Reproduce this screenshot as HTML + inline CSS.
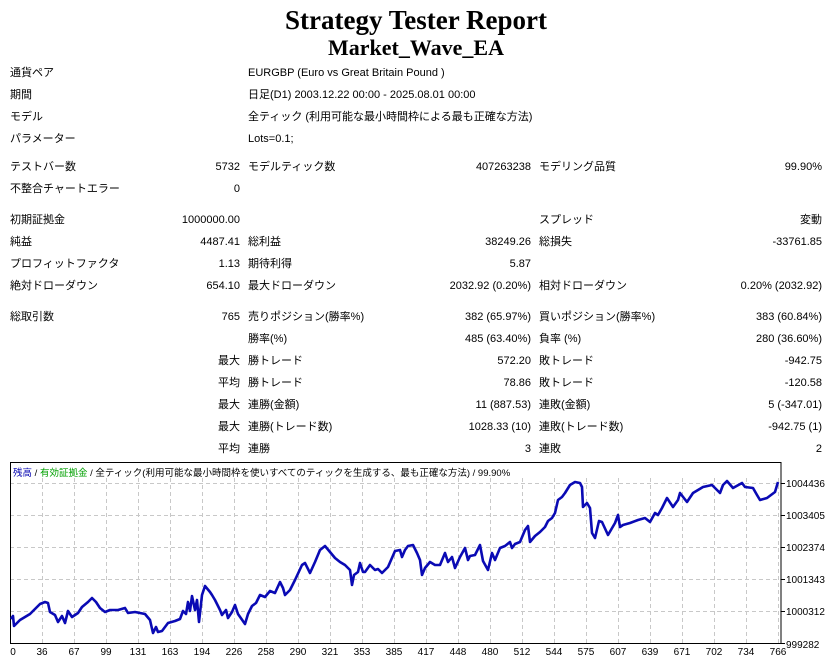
<!DOCTYPE html>
<html><head><meta charset="utf-8"><style>
body{margin:0;width:832px;height:664px;background:#fff;position:relative;overflow:hidden;font-family:"Liberation Sans","Noto Sans CJK JP",sans-serif;font-size:11px;color:#000}
.t{position:absolute;white-space:nowrap;line-height:14px}
.r{text-align:right}
h1,h2{position:absolute;left:0;width:832px;text-align:center;margin:0;font-family:"Liberation Serif",serif;font-weight:bold}
</style></head><body>
<h1 style="top:4px;font-size:27px;line-height:32px">Strategy Tester Report</h1>
<h2 style="top:35px;font-size:22px;line-height:26px">Market_Wave_EA</h2>

<div class="t" style="left:10px;top:66px">通貨ペア</div><div class="t" style="left:248px;top:66px">EURGBP (Euro vs Great Britain Pound )</div>
<div class="t" style="left:10px;top:88px">期間</div><div class="t" style="left:248px;top:88px">日足(D1) 2003.12.22 00:00 - 2025.08.01 00:00</div>
<div class="t" style="left:10px;top:110px">モデル</div><div class="t" style="left:248px;top:110px">全ティック (利用可能な最小時間枠による最も正確な方法)</div>
<div class="t" style="left:10px;top:132px">パラメーター</div><div class="t" style="left:248px;top:132px">Lots=0.1;</div>

<div class="t" style="left:10px;top:160px">テストバー数</div><div class="t r" style="right:592px;top:160px">5732</div>
<div class="t" style="left:248px;top:160px">モデルティック数</div><div class="t r" style="right:301px;top:160px">407263238</div>
<div class="t" style="left:539px;top:160px">モデリング品質</div><div class="t r" style="right:10px;top:160px">99.90%</div>
<div class="t" style="left:10px;top:182px">不整合チャートエラー</div><div class="t r" style="right:592px;top:182px">0</div>

<div class="t" style="left:10px;top:213px">初期証拠金</div><div class="t r" style="right:592px;top:213px">1000000.00</div>
<div class="t" style="left:539px;top:213px">スプレッド</div><div class="t r" style="right:10px;top:213px">変動</div>
<div class="t" style="left:10px;top:235px">純益</div><div class="t r" style="right:592px;top:235px">4487.41</div>
<div class="t" style="left:248px;top:235px">総利益</div><div class="t r" style="right:301px;top:235px">38249.26</div>
<div class="t" style="left:539px;top:235px">総損失</div><div class="t r" style="right:10px;top:235px">-33761.85</div>
<div class="t" style="left:10px;top:257px">プロフィットファクタ</div><div class="t r" style="right:592px;top:257px">1.13</div>
<div class="t" style="left:248px;top:257px">期待利得</div><div class="t r" style="right:301px;top:257px">5.87</div>
<div class="t" style="left:10px;top:279px">絶対ドローダウン</div><div class="t r" style="right:592px;top:279px">654.10</div>
<div class="t" style="left:248px;top:279px">最大ドローダウン</div><div class="t r" style="right:301px;top:279px">2032.92 (0.20%)</div>
<div class="t" style="left:539px;top:279px">相対ドローダウン</div><div class="t r" style="right:10px;top:279px">0.20% (2032.92)</div>

<div class="t" style="left:10px;top:310px">総取引数</div><div class="t r" style="right:592px;top:310px">765</div>
<div class="t" style="left:248px;top:310px">売りポジション(勝率%)</div><div class="t r" style="right:301px;top:310px">382 (65.97%)</div>
<div class="t" style="left:539px;top:310px">買いポジション(勝率%)</div><div class="t r" style="right:10px;top:310px">383 (60.84%)</div>
<div class="t" style="left:248px;top:332px">勝率(%)</div><div class="t r" style="right:301px;top:332px">485 (63.40%)</div>
<div class="t" style="left:539px;top:332px">負率 (%)</div><div class="t r" style="right:10px;top:332px">280 (36.60%)</div>
<div class="t r" style="right:592px;top:354px">最大</div><div class="t" style="left:248px;top:354px">勝トレード</div><div class="t r" style="right:301px;top:354px">572.20</div>
<div class="t" style="left:539px;top:354px">敗トレード</div><div class="t r" style="right:10px;top:354px">-942.75</div>
<div class="t r" style="right:592px;top:376px">平均</div><div class="t" style="left:248px;top:376px">勝トレード</div><div class="t r" style="right:301px;top:376px">78.86</div>
<div class="t" style="left:539px;top:376px">敗トレード</div><div class="t r" style="right:10px;top:376px">-120.58</div>
<div class="t r" style="right:592px;top:398px">最大</div><div class="t" style="left:248px;top:398px">連勝(金額)</div><div class="t r" style="right:301px;top:398px">11 (887.53)</div>
<div class="t" style="left:539px;top:398px">連敗(金額)</div><div class="t r" style="right:10px;top:398px">5 (-347.01)</div>
<div class="t r" style="right:592px;top:420px">最大</div><div class="t" style="left:248px;top:420px">連勝(トレード数)</div><div class="t r" style="right:301px;top:420px">1028.33 (10)</div>
<div class="t" style="left:539px;top:420px">連敗(トレード数)</div><div class="t r" style="right:10px;top:420px">-942.75 (1)</div>
<div class="t r" style="right:592px;top:442px">平均</div><div class="t" style="left:248px;top:442px">連勝</div><div class="t r" style="right:301px;top:442px">3</div>
<div class="t" style="left:539px;top:442px">連敗</div><div class="t r" style="right:10px;top:442px">2</div>

<svg style="position:absolute;left:0;top:0" width="832" height="664">
<g stroke="#c8c8c8" stroke-dasharray="4,3" stroke-width="1">
<path d="M10 483.5H781M10 515.5H781M10 547.5H781M10 579.5H781M10 611.5H781"/>
<path d="M42.5 478V643M74.5 478V643M106.5 478V643M138.5 478V643M170.5 478V643M202.5 478V643M234.5 478V643M266.5 478V643M298.5 478V643M330.5 478V643M362.5 478V643M394.5 478V643M426.5 478V643M458.5 478V643M490.5 478V643M522.5 478V643M554.5 478V643M586.5 478V643M618.5 478V643M650.5 478V643M682.5 478V643M714.5 478V643M746.5 478V643M778.5 478V643"/>
</g>
<rect x="10.5" y="462.5" width="770.5" height="181" fill="none" stroke="#000"/>
<g stroke="#000"><path d="M781 483.5h4M781 515.5h4M781 547.5h4M781 579.5h4M781 611.5h4M781 643.5h4"/></g>
<polyline fill="none" stroke="#0a0ab4" stroke-width="2.6" stroke-linejoin="round" points="11,619 13,616 14,626 20,620 30,614 40,604 45,602 48,603 50,612 55,615 58,622 62,616 65,623 68,611 72,617 78,613 82,607 88,602 92,598 96,602 100,608 105,612 110,610 118,610 125,608 128,613 135,612 145,614 150,620 153,633 156,627 158,632 162,631 168,623 175,621 180,619 183,611 186,614 188,602 190,611 192,596 195,610 197,600 199,622 202,595 205,586 210,592 212,595 215,600 220,610 222,615 226,610 228,618 232,612 235,605 238,614 245,624 248,614 252,606 256,603 260,595 265,597 270,591 275,593 280,582 283,588 285,595 290,590 295,580 302,565 305,563 310,573 315,562 320,550 325,546 330,552 335,558 340,562 345,565 350,570 352,585 354,575 358,572 360,563 363,572 365,572 370,565 375,570 378,569 382,573 388,567 395,551 400,550 402,557 405,550 408,546 413,545 417,553 420,560 422,575 425,568 430,562 435,565 440,565 445,553 448,562 452,557 455,568 460,557 465,548 468,560 470,556 475,555 480,545 483,561 488,570 492,553 495,560 500,548 505,546 510,542 512,548 515,544 520,542 525,530 528,526 530,542 535,536 540,532 545,527 548,521 552,518 555,513 558,500 562,497 565,493 570,485 575,482 580,483 582,487 583,507 587,503 590,508 592,533 595,538 599,521 602,522 608,535 615,523 618,515 620,527 623,525 630,523 638,520 645,518 650,522 655,513 658,515 662,508 667,498 673,507 678,500 680,493 687,502 693,493 703,487 712,485 720,493 723,485 727,481 733,488 742,483 745,487 753,488 757,495 760,500 767,498 775,492 778,482"/>
<g font-size="10" font-family="'Liberation Sans',sans-serif" fill="#000">
<text x="786" y="487">1004436</text><text x="786" y="519">1003405</text><text x="786" y="551">1002374</text><text x="786" y="583">1001343</text><text x="786" y="615">1000312</text><text x="786" y="648">999282</text>
<g text-anchor="middle">
<text x="13" y="655">0</text><text x="42" y="655">36</text><text x="74" y="655">67</text><text x="106" y="655">99</text><text x="138" y="655">131</text><text x="170" y="655">163</text><text x="202" y="655">194</text><text x="234" y="655">226</text><text x="266" y="655">258</text><text x="298" y="655">290</text><text x="330" y="655">321</text><text x="362" y="655">353</text><text x="394" y="655">385</text><text x="426" y="655">417</text><text x="458" y="655">448</text><text x="490" y="655">480</text><text x="522" y="655">512</text><text x="554" y="655">544</text><text x="586" y="655">575</text><text x="618" y="655">607</text><text x="650" y="655">639</text><text x="682" y="655">671</text><text x="714" y="655">702</text><text x="746" y="655">734</text><text x="778" y="655">766</text>
</g>
<text x="13" y="476" font-size="9.5" font-family="'Liberation Sans','Noto Sans CJK JP',sans-serif"><tspan fill="#0000b0">残高</tspan><tspan fill="#000"> / </tspan><tspan fill="#00a000">有効証拠金</tspan><tspan fill="#000"> / 全ティック(利用可能な最小時間枠を使いすべてのティックを生成する、最も正確な方法) / 99.90%</tspan></text>
</g>
</svg>
</body></html>
